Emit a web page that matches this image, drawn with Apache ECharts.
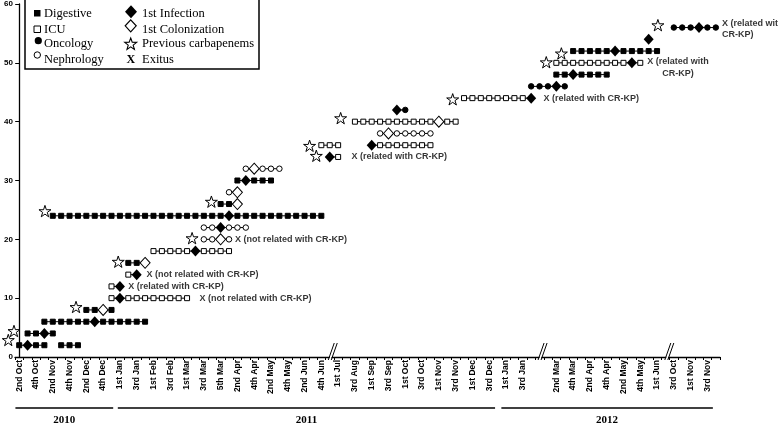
<!DOCTYPE html>
<html><head><meta charset="utf-8">
<script src="https://cdn.jsdelivr.net/npm/echarts@6/dist/echarts.min.js"></script>
<style>html,body{margin:0;padding:0;background:#fff}#c{width:778px;height:425px}</style>
</head><body><div id="c"></div>
<script>
// ---------- axis labels (one label every second week) ----------
const tickLabels = ['2nd Oct','4th Oct','2nd Nov','4th Nov','2nd Dec','4th Dec',
  '1st Jan','3rd Jan','1st Feb','3rd Feb','1st Mar','3rd Mar','5th Mar','2nd Apr','4th Apr','2nd May','4th May','2nd Jun','4th Jun',
  '1st Jul','3rd Aug','1st Sep','3rd Sep','1st Oct','3rd Oct','1st Nov','3rd Nov','1st Dec','3rd Dec',
  '1st Jan','3rd Jan','','2nd Mar','4th Mar','2nd Apr','4th Apr','2nd May','4th May','1st Jun',
  '3rd Oct','1st Nov','3rd Nov'];
const weekCount = 84;
const axisBreaks = [37.3, 62.3, 77.4];
const years = ['2010', '2011', '2012'];
const yearStart = [-0.45, 11.75, 57.45];
const yearEnd = [11.2, 56.7, 82.65];

// ---------- patient rows ----------
const rowY = [2,2,4,6,8,10,12,14,16,18,20,22,24,26,28,30,32,34,36,36,38,40,42,44,46,48,50,52,54,56];
const rowWard = ['Digestive','Digestive','Digestive','Digestive','Digestive','ICU','ICU','ICU','Digestive','ICU',
  'Nephrology','Nephrology','Digestive','Digestive','Nephrology','Digestive','Nephrology','ICU','ICU','ICU',
  'Nephrology','ICU','Oncology','ICU','Oncology','Digestive','ICU','Digestive','Oncology','Oncology'];
const rowWeeks = [
  [0,1,2,3],
  [5,6,7],
  [1,2,3,4],
  [3,4,5,6,7,8,9,10,11,12,13,14,15],
  [8,9,10,11],
  [11,12,13,14,15,16,17,18,19,20],
  [11,12],
  [13,14],
  [13,14,15],
  [16,17,18,19,20,21,22,23,24,25],
  [22,23,24,25],
  [22,23,24,25,26,27],
  [4,5,6,7,8,9,10,11,12,13,14,15,16,17,18,19,20,21,22,23,24,25,26,27,28,29,30,31,32,33,34,35,36],
  [24,25,26],
  [25,26],
  [26,27,28,29,30],
  [27,28,29,30,31],
  [37,38],
  [36,37,38],
  [42,43,44,45,46,47,48,49],
  [43,44,45,46,47,48,49],
  [40,41,42,43,44,45,46,47,48,49,50,51,52],
  [45,46],
  [53,54,55,56,57,58,59,60,61],
  [61,62,63,64,65],
  [64,65,66,67,68,69,70],
  [64,65,66,67,68,69,70,71,72,73,74],
  [66,67,68,69,70,71,72,73,74,75,76],
  [75],
  [78,79,80,81,82,83]
];
const infectionWeek = [1,null,3,9,null,12,12,14,null,21,null,24,25,null,null,27,null,37,null,42,null,null,45,61,64,66,73,71,75,81];
const colonizationWeek = [null,null,null,null,10,null,null,null,15,null,24,null,null,26,26,null,28,null,null,null,44,50,null,null,null,null,null,null,null,null];

// previous carbapenems (stars)
const starWeek  = [-1.3, -0.62, 6.77, 11.8, 20.6, 3.07, 22.9, 35.4, 34.6, 38.3, 51.65, 62.8, 64.6, 76.1];
const starValue = [2.89, 4.42, 8.5, 16.2, 20.2, 24.8, 26.4, 34.2, 35.9, 40.6, 43.8, 50.1, 51.6, 56.4];

// exitus annotations
const exitusText = ['X (not related with CR-KP)','X (related with CR-KP)','X (not related with CR-KP)','X (not related with CR-KP)',
  'X (related with CR-KP)','X (related with CR-KP)','X (related with\nCR-KP)','X (related with\nCR-KP)'];
const exitusWeek  = [21.47, 13.0, 15.17, 25.7, 39.6, 62.47, 78.5, 83.75];
const exitusValue = [10, 12, 14, 20, 34, 44, 49.2, 55.75];
const exitusAlign = ['left','left','left','left','left','left','center','left'];

// ---------- build ----------
const SANS = 'Liberation Sans, Arial, sans-serif';
const SERIF = 'Liberation Serif, Times New Roman, serif';
const STAR = 'path://M50,0 L61.2,34.5 L97.6,34.5 L68.2,55.9 L79.4,90.5 L50,69.1 L20.6,90.5 L31.8,55.9 L2.4,34.5 L38.8,34.5 Z';

const weekCats = [];
for (let i = 0; i < weekCount; i++) weekCats.push(i % 2 === 0 && tickLabels[i / 2] !== undefined ? tickLabels[i / 2] : '');

const wardStyle = {
  Digestive: {symbol: 'rect', size: 5, color: '#000'},
  ICU: {symbol: 'rect', size: 5, color: '#fff'},
  Oncology: {symbol: 'circle', size: 5.5, color: '#000'},
  Nephrology: {symbol: 'circle', size: 5.5, color: '#fff'}
};

const series = [];
rowWeeks.forEach((wk, i) => {
  series.push({
    type: 'line', xAxisIndex: 1, yAxisIndex: 0, silent: true, symbol: 'none',
    lineStyle: {color: '#000', width: 1}, z: 1,
    data: wk.map(w => [w, rowY[i]])
  });
});
Object.keys(wardStyle).forEach(name => {
  const data = [];
  rowWeeks.forEach((wk, i) => {
    if (rowWard[i] !== name) return;
    wk.forEach(w => { if (w !== infectionWeek[i] && w !== colonizationWeek[i]) data.push([w, rowY[i]]); });
  });
  const st = wardStyle[name];
  series.push({
    name, type: 'scatter', xAxisIndex: 1, yAxisIndex: 0, clip: false, z: 3,
    symbol: st.symbol, symbolSize: st.size,
    itemStyle: {color: st.color, borderColor: '#000', borderWidth: 1, opacity: 1},
    data
  });
});
series.push({
  name: '1st Infection', type: 'scatter', xAxisIndex: 1, yAxisIndex: 0, clip: false, z: 4,
  symbol: 'diamond', symbolSize: [10, 11], itemStyle: {color: '#000', opacity: 1},
  data: infectionWeek.map((w, i) => w === null ? null : [w, rowY[i]]).filter(d => d)
});
series.push({
  name: '1st Colonization', type: 'scatter', xAxisIndex: 1, yAxisIndex: 0, clip: false, z: 4,
  symbol: 'diamond', symbolSize: [10, 11], itemStyle: {color: '#fff', borderColor: '#000', borderWidth: 1, opacity: 1},
  data: colonizationWeek.map((w, i) => w === null ? null : [w, rowY[i]]).filter(d => d)
});
series.push({
  name: 'Previous carbapenems', type: 'scatter', xAxisIndex: 1, yAxisIndex: 0, clip: false, z: 4,
  symbol: STAR, symbolSize: 12, symbolKeepAspect: true,
  itemStyle: {color: '#fff', borderColor: '#000', borderWidth: 1, opacity: 1},
  data: starWeek.map((w, i) => [w, starValue[i]])
});
series.push({
  name: 'Exitus', type: 'scatter', xAxisIndex: 1, yAxisIndex: 0, clip: false, z: 5, silent: true,
  symbolSize: 1, itemStyle: {color: 'rgba(0,0,0,0)'},
  data: exitusWeek.map((w, i) => ({
    value: [w, exitusValue[i]],
    label: {show: true, position: 'inside', formatter: exitusText[i], align: exitusAlign[i], verticalAlign: 'middle',
      color: '#000', fontFamily: SANS, fontWeight: 'bold', fontSize: 9, lineHeight: 11.5}
  }))
});

const chart = echarts.init(document.getElementById('c'), null, {renderer: 'canvas', width: 778, height: 425});
chart.setOption({
  animation: false,
  backgroundColor: '#fff',
  grid: {left: 15, right: 58, top: 4, bottom: 68, containLabel: false},
  xAxis: [{
    type: 'category', data: weekCats, boundaryGap: true,
    axisLine: {lineStyle: {color: '#000', width: 1.3}},
    axisTick: {show: true, interval: 0, length: 3, lineStyle: {color: '#000', width: 1}},
    axisLabel: {interval: 0, rotate: 90, margin: 3, color: '#000', fontFamily: SANS, fontWeight: 'bold', fontSize: 8.5},
    splitLine: {show: false}
  }, {
    type: 'value', min: -0.5, max: weekCount - 0.5, show: false
  }],
  yAxis: [{
    type: 'value', min: 0, max: 60, interval: 10,
    axisLine: {show: true, lineStyle: {color: '#000', width: 1.3}},
    axisTick: {show: true, length: 4, lineStyle: {color: '#000'}},
    axisLabel: {margin: 2, color: '#000', fontFamily: SANS, fontWeight: 'bold', fontSize: 8},
    splitLine: {show: false}
  }],
  series
});

// ---------- decorations: axis breaks, year brackets, legend ----------
const px = (w, v) => chart.convertToPixel({xAxisIndex: 1, yAxisIndex: 0}, [w, v]);
const g = [];
const axisY = px(0, 0)[1];
axisBreaks.forEach(b => {
  const bx = px(b, 0)[0];
  const k = 6 / 17;
  const x1 = (y) => bx - 4 + (axisY + 3 - y) * k;
  const x2 = (y) => bx - 1 + (axisY + 3 - y) * k;
  g.push({type: 'polygon', z: 100, shape: {points: [[x1(axisY + 2) + 0.6, axisY + 2], [x2(axisY + 2) - 0.6, axisY + 2], [x2(axisY - 2) - 0.6, axisY - 2], [x1(axisY - 2) + 0.6, axisY - 2]]}, style: {fill: '#fff'}});
  g.push({type: 'line', z: 101, shape: {x1: x1(axisY + 3), y1: axisY + 3, x2: x1(axisY - 14), y2: axisY - 14}, style: {stroke: '#000', lineWidth: 1}});
  g.push({type: 'line', z: 101, shape: {x1: x2(axisY + 3), y1: axisY + 3, x2: x2(axisY - 14), y2: axisY - 14}, style: {stroke: '#000', lineWidth: 1}});
});
years.forEach((yr, i) => {
  const a = px(yearStart[i], 0)[0], b = px(yearEnd[i], 0)[0];
  g.push({type: 'line', z: 100, shape: {x1: a, y1: 408, x2: b, y2: 408}, style: {stroke: '#000', lineWidth: 1.3}});
  g.push({type: 'text', z: 100, x: (a + b) / 2, y: 420, style: {text: yr, fill: '#000', font: 'bold 11px ' + SERIF, align: 'center', verticalAlign: 'middle'}});
});
// legend
const LZ = 200;
g.push({type: 'rect', z: LZ, shape: {x: 25, y: -1, width: 234, height: 70}, style: {fill: '#fff', stroke: '#000', lineWidth: 1.5}});
const legL = ['Digestive', 'ICU', 'Oncology', 'Nephrology'];
const legR = ['1st Infection', '1st Colonization', 'Previous carbapenems', 'Exitus'];
const legRowY = [13.3, 29.3, 44, 59.3];
legL.forEach((t, i) => g.push({type: 'text', z: LZ + 1, x: 44, y: legRowY[i], style: {text: t, fill: '#000', font: '12.5px ' + SERIF, verticalAlign: 'middle'}}));
legR.forEach((t, i) => g.push({type: 'text', z: LZ + 1, x: 142, y: legRowY[i], style: {text: t, fill: '#000', font: '12.5px ' + SERIF, verticalAlign: 'middle'}}));
g.push({type: 'rect', z: LZ + 1, shape: {x: 34, y: 10, width: 6.5, height: 6.5}, style: {fill: '#000'}});
g.push({type: 'rect', z: LZ + 1, shape: {x: 34, y: 26, width: 6.5, height: 6.5}, style: {fill: '#fff', stroke: '#000', lineWidth: 1}});
g.push({type: 'circle', z: LZ + 1, shape: {cx: 38.3, cy: 40.7, r: 3.6}, style: {fill: '#000'}});
g.push({type: 'circle', z: LZ + 1, shape: {cx: 37.3, cy: 55, r: 3.2}, style: {fill: '#fff', stroke: '#000', lineWidth: 1}});
const dia = (cx, cy, w, h) => [[cx, cy - h / 2], [cx + w / 2, cy], [cx, cy + h / 2], [cx - w / 2, cy]];
g.push({type: 'polygon', z: LZ + 1, shape: {points: dia(131, 11.7, 12, 13)}, style: {fill: '#000'}});
g.push({type: 'polygon', z: LZ + 1, shape: {points: dia(130.7, 25.8, 11, 12)}, style: {fill: '#fff', stroke: '#000', lineWidth: 1.2}});
const starPts = [];
for (let i = 0; i < 10; i++) {
  const ang = -Math.PI / 2 + i * Math.PI / 5, r = i % 2 === 0 ? 6.3 : 2.6;
  starPts.push([130.7 + r * Math.cos(ang), 44.3 + r * Math.sin(ang)]);
}
g.push({type: 'polygon', z: LZ + 1, shape: {points: starPts}, style: {fill: '#fff', stroke: '#000', lineWidth: 1.1}});
g.push({type: 'text', z: LZ + 1, x: 130.8, y: 59.5, style: {text: 'X', fill: '#000', font: 'bold 12px ' + SERIF, align: 'center', verticalAlign: 'middle'}});
chart.setOption({graphic: g});
</script>
</body></html>
